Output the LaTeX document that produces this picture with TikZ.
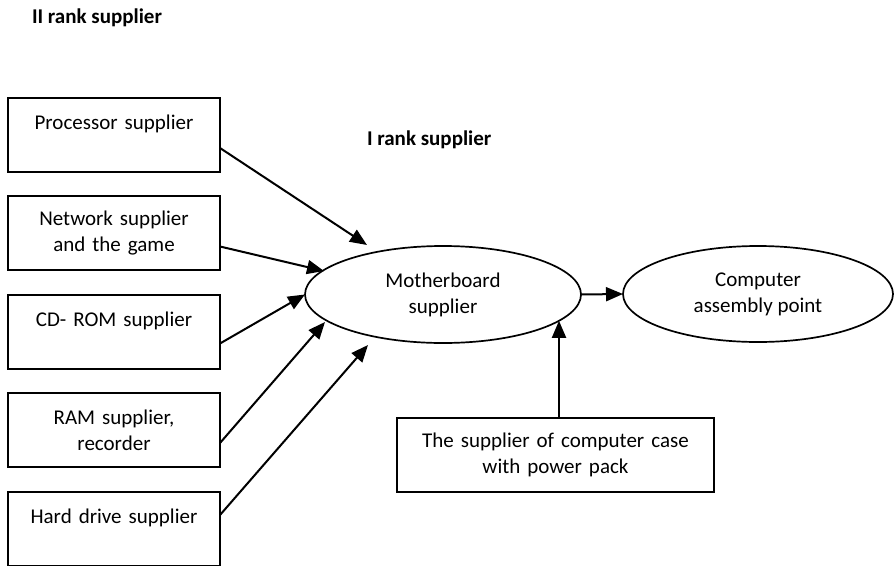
\documentclass[tikz,border=0pt]{standalone}
\usepackage{fontspec}
\setmainfont{Carlito}
\usetikzlibrary{arrows.meta,shapes.geometric}

\begin{document}
\begin{tikzpicture}[x=1pt,y=-1pt,
  every node/.style={font=\fontsize{21}{26}\selectfont, inner sep=0pt, outer sep=0pt},
  title/.style={font=\fontsize{21}{26}\selectfont\bfseries, anchor=base west},
  supbox/.style={draw, line width=1.8pt, rectangle, anchor=north west,
    minimum width=212pt, minimum height=74pt, text width=212pt, align=center},
  casebox/.style={supbox, minimum width=317pt, text width=317pt},
  oval/.style={draw, line width=1.7pt, ellipse, align=center},
  arr/.style={line width=2pt, -{Triangle[length=17pt,width=14pt]}}
]
\clip (0,0) rectangle (894,565);

% headings
\node[title] (rank2) at (32,23) {II rank supplier};
\node[title] (rank1) at (367,145) {I rank supplier};

% second-rank suppliers
\node[supbox] (proc) at (8,98)  {Processor supplier\\~};
\node[supbox] (net)  at (8,196) {Network supplier\\and the game};
\node[supbox] (cd)   at (8,295) {CD- ROM supplier\\~};
\node[supbox] (ram)  at (8,393) {RAM supplier,\\recorder};
\node[supbox] (hdd)  at (8,492) {Hard drive supplier\\~};

% first-rank supplier and assembly
\node[oval, minimum width=276pt, minimum height=97pt] (mb) at (443,294.5) {Motherboard\\supplier};
\node[oval, minimum width=270pt, minimum height=96pt] (asm) at (758,294) {Computer\\assembly point};

% case supplier
\node[casebox] (case) at (397,418) {The supplier of computer case\\with power pack};

% deliveries
\draw[arr] ([yshift=-13pt]proc.east) -- ([xshift=-76pt,yshift=49.5pt]mb.center);
\draw[arr] ([yshift=-13.5pt]net.east) -- ([xshift=-119pt,yshift=23.5pt]mb.center);
\draw[arr] ([yshift=-11.5pt]cd.east)  -- (mb.west);
\draw[arr] ([yshift=-13pt]ram.east)  -- ([xshift=-118pt,yshift=-27.5pt]mb.center);
\draw[arr] ([yshift=14pt]hdd.east)   -- ([xshift=-75pt,yshift=-50.5pt]mb.center);
\draw[arr] (mb.east) -- (asm.west);
\draw[arr] ([xshift=3.5pt]case.north) -- ([xshift=116pt,yshift=-26.3pt]mb.center);
\end{tikzpicture}
\end{document}
